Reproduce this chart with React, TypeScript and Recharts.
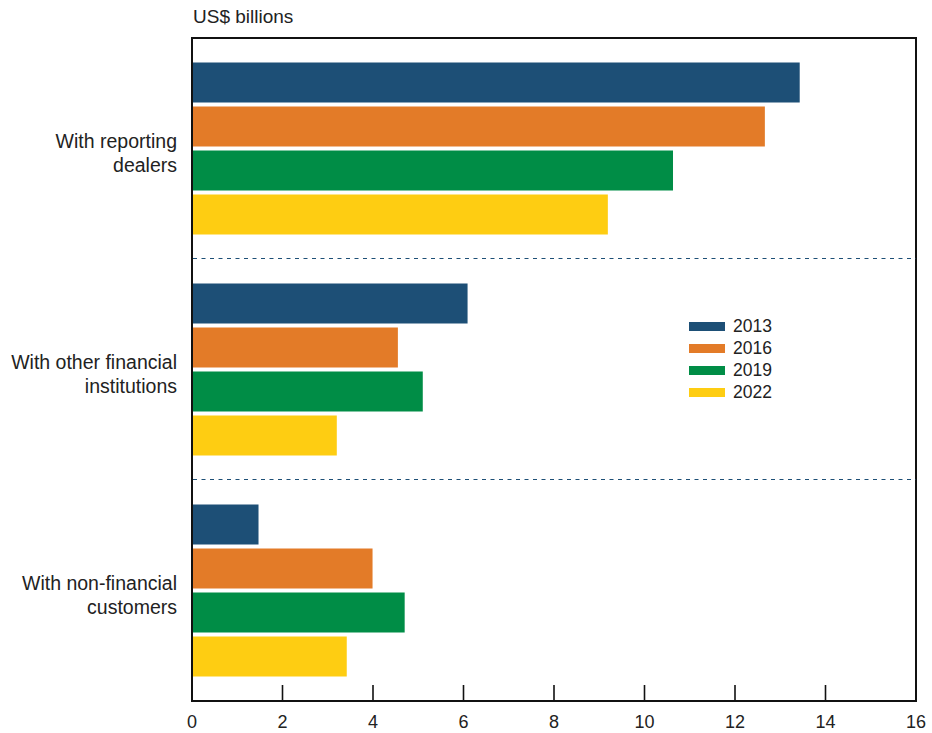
import React from 'react';
import { BarChart, Bar, XAxis, YAxis, Legend, ReferenceArea } from 'recharts';

const categories = ['With reporting dealers', 'With other financial institutions', 'With non-financial customers'];
const categoryLines = [
  ['With reporting', 'dealers'],
  ['With other financial', 'institutions'],
  ['With non-financial', 'customers'],
];

const years = ['2013', '2016', '2019', '2022'];
const colors = ['#1d4f76', '#e37b28', '#008d46', '#fecd12'];

const s2013 = [13.43, 6.09, 1.47];
const s2016 = [12.66, 4.55, 3.99];
const s2019 = [10.63, 5.1, 4.7];
const s2022 = [9.19, 3.2, 3.42];

const xTicks = [0, 2, 4, 6, 8, 10, 12, 14, 16];

const data = categories.map((name, i) => ({
  name,
  y2013: s2013[i],
  y2016: s2016[i],
  y2019: s2019[i],
  y2022: s2022[i],
}));

const FONT = '"Liberation Sans", Arial, Helvetica, sans-serif';
const WIDTH = 932;
const HEIGHT = 733;
const MARGIN = { top: 38, right: 16, bottom: 0, left: 0 };
const Y_AXIS_W = 192;
const X_AXIS_H = 32;
const PLOT_W = WIDTH - Y_AXIS_W - MARGIN.right;
const PLOT_H = HEIGHT - MARGIN.top - X_AXIS_H;

const XTick = (props: any) => {
  const { x, y, payload } = props;
  return (
    <g>
      <line x1={x} x2={x} y1={y} y2={y - 16} stroke="#111" strokeWidth={1.6} />
      <text x={x} y={y + 27} textAnchor="middle" fontSize={18} fill="#222" fontFamily={FONT}>
        {payload.value}
      </text>
    </g>
  );
};

const YTick = (props: any) => {
  const { x, y, payload } = props;
  const idx = categories.indexOf(payload.value);
  const lines = categoryLines[idx] || [payload.value];
  const half = payload.offset || PLOT_H / categories.length / 2;
  // dashed separator on the boundary below each band, nudged onto a pixel row
  const sepY = Math.round(y + half) - 0.5;
  return (
    <g>
      <text textAnchor="end" fontSize={19.5} fill="#222" fontFamily={FONT}>
        {lines.map((l, i) => (
          <tspan key={i} x={x - 15} y={y - 1 + i * 24}>
            {l}
          </tspan>
        ))}
      </text>
      {idx < categories.length - 1 && (
        <line
          x1={x + 1}
          x2={x + PLOT_W}
          y1={sepY}
          y2={sepY}
          stroke="#1d4f76"
          strokeWidth={1}
          strokeDasharray="4 4.5"
        />
      )}
    </g>
  );
};

const renderLegend = (props: any) => {
  const { payload } = props;
  return (
    <div style={{ fontFamily: FONT, fontSize: 17.5, color: '#222' }}>
      {payload.map((entry: any) => (
        <div key={entry.value} style={{ display: 'flex', alignItems: 'center', height: 22 }}>
          <span style={{ display: 'inline-block', width: 36, height: 9, background: entry.color, marginRight: 8 }} />
          <span>{entry.value}</span>
        </div>
      ))}
    </div>
  );
};

export default function App() {
  return (
    <div style={{ position: 'absolute', left: 0, top: 0, width: WIDTH, height: HEIGHT, background: '#fff' }}>
      <div
        style={{
          position: 'absolute',
          left: 193,
          top: 7,
          fontFamily: FONT,
          fontSize: 19,
          lineHeight: '19px',
          color: '#222',
        }}
      >
        US$ billions
      </div>
      <BarChart
        width={WIDTH}
        height={HEIGHT}
        data={data}
        layout="vertical"
        margin={MARGIN}
        barCategoryGap={24.5}
        barGap={4}
      >
        <XAxis
          type="number"
          domain={[0, 16]}
          ticks={xTicks}
          interval={0}
          height={X_AXIS_H}
          tickSize={0}
          tickMargin={0}
          tickLine={false}
          axisLine={{ stroke: '#111', strokeWidth: 2 }}
          tick={<XTick />}
        />
        <YAxis
          type="category"
          dataKey="name"
          width={Y_AXIS_W}
          tickSize={0}
          tickMargin={0}
          tickLine={false}
          axisLine={{ stroke: '#111', strokeWidth: 2 }}
          tick={<YTick />}
          interval={0}
        />
        <Legend
          layout="vertical"
          align="center"
          verticalAlign="middle"
          content={renderLegend}
          wrapperStyle={{ left: 689, top: 315, width: 'auto' }}
        />
        {years.map((yr, i) => (
          <Bar key={yr} dataKey={`y${yr}`} name={yr} fill={colors[i]} isAnimationActive={false} />
        ))}
        <ReferenceArea x1={0} x2={16} fill="none" fillOpacity={0} stroke="#111" strokeWidth={2} ifOverflow="visible" />
      </BarChart>
    </div>
  );
}
